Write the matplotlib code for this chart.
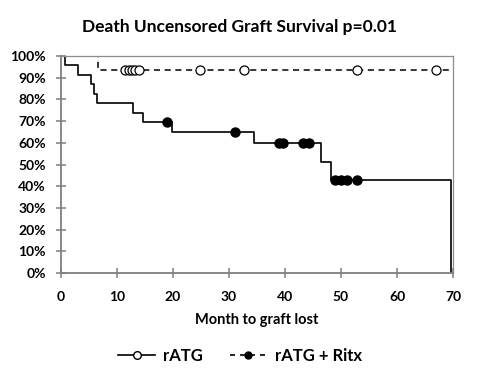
import matplotlib
matplotlib.use("Agg")
import matplotlib.pyplot as plt
from matplotlib.lines import Line2D
from matplotlib.ticker import FuncFormatter

plt.rcParams['font.family'] = ['Lato', 'DejaVu Sans']
plt.rcParams['font.weight'] = 'bold'

title = "Death Uncensored Graft Survival p=0.01"
xlabel = "Month to graft lost"
legend_labels = ["rATG", "rATG + Ritx"]

# Solid curve (step function)
solid_t = [0, 0.8, 3.0, 5.3, 5.9, 6.4, 12.9, 14.7, 19.9, 34.5, 46.4, 48.3, 69.7]
solid_s = [100, 95.7, 91.3, 87.0, 82.6, 78.3, 73.9, 69.6, 64.9, 59.9, 51.2, 42.7, 0]
solid_cens_t = [19.0, 31.0, 38.9, 39.7, 43.2, 44.2, 48.9, 50.0, 51.0, 52.8]
solid_cens_s = [69.6, 64.9, 59.9, 59.9, 59.9, 59.9, 42.7, 42.7, 42.7, 42.7]

# Dashed curve (step function)
dash_t = [0, 6.6, 70]
dash_s = [100, 93.5, 93.5]
dash_cens_t = [11.5, 12.1, 12.7, 13.3, 13.9, 24.8, 32.7, 52.9, 67.0]
dash_cens_s = [93.5] * 9

fig = plt.figure(figsize=(4.8, 3.84), dpi=100)
ax = fig.add_axes([61/480, 1-273/384, (453-61)/480, (273-56)/384])

ax.step(dash_t, dash_s, where='post', color='black', lw=1.1, ls=(0, (4, 3)), zorder=2)
ax.plot(dash_cens_t, dash_cens_s, ls='none', marker='o', ms=6.5, mfc='white', mec='black', mew=0.9, zorder=3)
ax.step(solid_t, solid_s, where='post', color='black', lw=1.2, zorder=2)
ax.plot(solid_cens_t, solid_cens_s, ls='none', marker='o', ms=6.5, mfc='black', mec='black', zorder=3)

ax.set_xlim(0, 70)
ax.set_ylim(0, 100)
ax.set_xticks(range(0, 71, 10))
ax.set_yticks(range(0, 101, 10))
ax.yaxis.set_major_formatter(FuncFormatter(lambda v, p: f"{int(v)}%"))
for s in ['left', 'bottom']:
    ax.spines[s].set_color('#7f7f7f')
    ax.spines[s].set_linewidth(1.3)
for s in ['top', 'right']:
    ax.spines[s].set_color('#8c8c8c')
    ax.spines[s].set_linewidth(0.9)
ax.tick_params(axis='both', direction='inout', length=7, width=1.1, color='#7f7f7f',
               labelsize=10)
ax.tick_params(axis='y', pad=7.5)
ax.tick_params(axis='x', pad=9.5)
for lab in ax.get_xticklabels() + ax.get_yticklabels():
    lab.set_fontweight('bold')

ax.set_xlabel(xlabel, fontsize=10.5, fontweight='bold', labelpad=7)
fig.text(0.5, 1-27/384, title, ha='center', va='center', fontsize=12.5, fontweight='bold')

handles = [
    Line2D([], [], color='black', lw=1.2, marker='o', ms=5.5, mfc='white', mec='black'),
    Line2D([], [], color='black', lw=1.2, ls=(0, (3, 3)), marker='o', ms=5, mfc='black', mec='black'),
]
fig.legend(handles, legend_labels, loc='center', bbox_to_anchor=(0.5, 1-356/384), ncol=2,
           frameon=False, handlelength=2.2, columnspacing=1.6, handletextpad=0.5,
           prop={'weight': 'bold', 'size': 12})

fig.savefig("out.png", dpi=100, facecolor='white')
